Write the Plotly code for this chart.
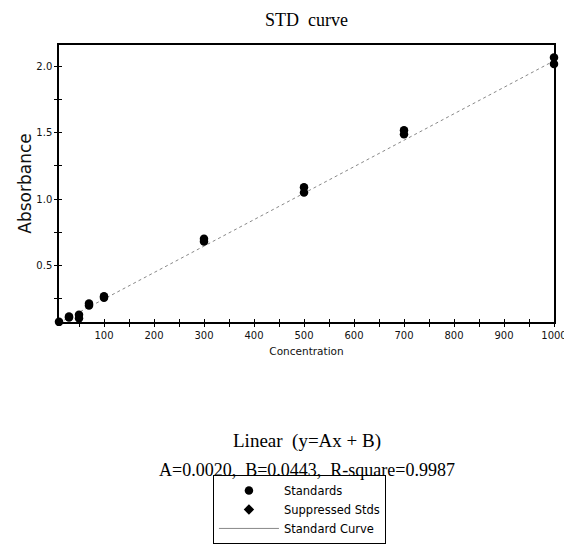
import plotly.graph_objects as go

# Data
concentration = [10, 10, 30, 30, 50, 50, 70, 70, 100, 100, 300, 300, 500, 500, 700, 700, 1000, 1000]
absorbance = [0.065, 0.072, 0.105, 0.112, 0.100, 0.125, 0.195, 0.210, 0.255, 0.265,
              0.680, 0.700, 1.050, 1.090, 1.490, 1.520, 2.020, 2.070]
fit_A = 0.0020
fit_B = 0.0443
r_square = 0.9987
x_ticks = [100, 200, 300, 400, 500, 600, 700, 800, 900, 1000]
y_ticks = [0.5, 1.0, 1.5, 2.0]

x_range = [10, 1000]
y_range = [0.071, 2.164]

curve_x = [x_range[0], x_range[1]]
curve_y = [fit_A * v + fit_B for v in curve_x]

fig = go.Figure()
fig.add_trace(go.Scatter(x=curve_x, y=curve_y, mode="lines", name="Standard Curve",
                         line=dict(color="#888888", width=1, dash="dot"), showlegend=False))
fig.add_trace(go.Scatter(x=concentration, y=absorbance, mode="markers", name="Standards",
                         marker=dict(symbol="circle", color="black", size=8.5), cliponaxis=False))
fig.add_trace(go.Scatter(x=[None], y=[None], mode="markers", name="Suppressed Stds",
                         marker=dict(symbol="diamond", color="black", size=8)))
fig.add_trace(go.Scatter(x=[None], y=[None], mode="lines", name="Standard Curve",
                         line=dict(color="#888888", width=1)))

axis_common = dict(showgrid=False, zeroline=False, linecolor="black", linewidth=1.5,
                   tickcolor="black", tickwidth=1, ticklen=3, automargin=False)
fig.update_layout(
    width=564, height=537,
    margin=dict(l=51, r=18, t=37, b=223),
    paper_bgcolor="white", plot_bgcolor="white",
    showlegend=True,
    font=dict(family="DejaVu Sans, Liberation Sans, Arial", color="#111111", size=10),
    xaxis=dict(range=x_range, tickvals=x_ticks, ticks="outside", mirror=True, showline=True,
               minor=dict(dtick=50, tick0=0, ticks="outside", ticklen=3, tickcolor="black"),
               tickfont=dict(size=10),
               title=dict(text="Concentration", font=dict(size=10.5), standoff=8), **axis_common),
    yaxis=dict(range=y_range, tickvals=y_ticks, tickformat=".1f", ticks="outside", mirror=True,
               showline=True,
               minor=dict(dtick=0.25, tick0=0, ticks="outside", ticklen=3, tickcolor="black"),
               tickfont=dict(size=10),
               title=dict(text="Absorbance", font=dict(family="DejaVu Sans, Arial", size=17),
                          standoff=0), **axis_common),
    xaxis2=dict(range=x_range, overlaying="x", anchor="y", side="bottom", tickvals=x_ticks,
                ticks="inside", showticklabels=False, showline=False, automargin=False,
                minor=dict(dtick=50, tick0=0, ticks="inside", ticklen=3, tickcolor="black"),
                showgrid=False, zeroline=False, tickcolor="black", ticklen=3),
    yaxis2=dict(range=y_range, overlaying="y", anchor="x", side="left", tickvals=y_ticks,
                ticks="inside", showticklabels=False, showline=False, automargin=False,
                minor=dict(dtick=0.25, tick0=0, ticks="inside", ticklen=3, tickcolor="black"),
                showgrid=False, zeroline=False, tickcolor="black", ticklen=3),
    legend=dict(x=0.311, xref="paper", y=0.002, yref="container",
                xanchor="left", yanchor="bottom",
                bordercolor="black", borderwidth=1, bgcolor="white",
                font=dict(family="DejaVu Sans, Liberation Sans, Arial", size=11.5, color="black"),
                tracegroupgap=0, itemwidth=60),
)
# dummy trace to activate overlay axes
fig.add_trace(go.Scatter(x=[None], y=[None], xaxis="x2", yaxis="y2", showlegend=False))

serif = dict(family="Liberation Serif, Times New Roman", size=18, color="black")
fig.add_annotation(text="STD&nbsp;&nbsp;curve", xref="paper", yref="paper", x=0.5, y=1,
                   yshift=25, yanchor="middle", showarrow=False, font=serif)
fig.add_annotation(text="Linear&nbsp;&nbsp;(y=Ax&nbsp;+&nbsp;B)", xref="paper", yref="paper",
                   x=0.5, y=0, yshift=-119, yanchor="middle", showarrow=False,
                   font=dict(family="Liberation Serif, Times New Roman", size=19, color="black"))
fig.add_annotation(text=f"A={fit_A:.4f},&nbsp;&nbsp;B={fit_B:.4f},&nbsp;&nbsp;R-square={r_square:.4f}",
                   xref="paper", yref="paper", x=0.5, y=0, yshift=-148, yanchor="middle",
                   showarrow=False, font=serif)

fig.write_html("out.html")
